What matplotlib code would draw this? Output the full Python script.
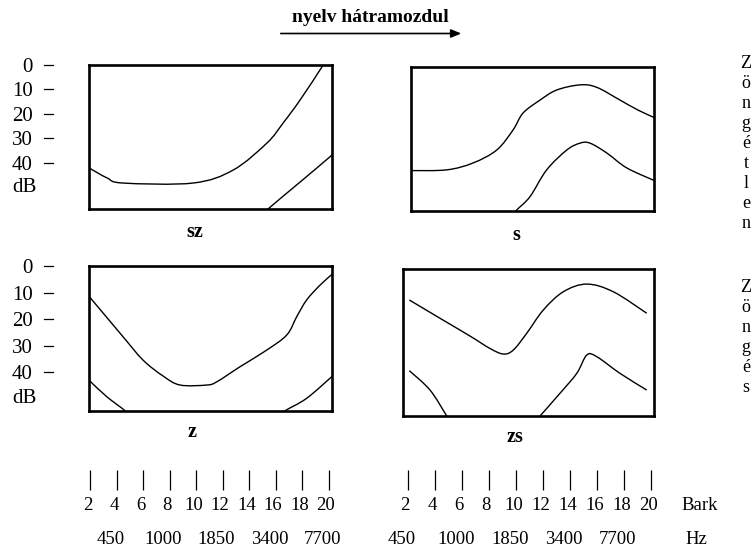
import numpy as np
import matplotlib.pyplot as plt
from matplotlib.path import Path
from matplotlib.patches import PathPatch, FancyArrowPatch

plt.rcParams['font.family'] = ['Liberation Serif', 'DejaVu Serif']

W, H = 753, 548

# spectral envelopes (Bark, dB below peak); two curves per sound
sz_hi_bark = [1.92, 3.28, 4.49, 9.77, 12.8, 15.36, 16.57, 17.85, 19.5, 19.9]
sz_hi_db = [42.0, 46.1, 48.2, 48.2, 42.9, 31.8, 23.7, 14.3, 0.8, -3.0]
sz_lo_bark = [15.2, 15.43, 17.85, 20.19, 20.4]
sz_lo_db = [60.5, 58.8, 47.8, 37.1, 35.8]

s_hi_bark = [2.2, 4.87, 6.81, 8.57, 9.78, 10.52, 11.78, 13.01, 14.74, 15.98, 17.7, 19.04, 20.3]
s_hi_db = [42.3, 42.0, 39.2, 33.9, 25.7, 18.8, 13.5, 9.4, 7.3, 8.3, 13.5, 17.6, 20.8]
s_lo_bark = [9.9, 10.05, 11.04, 12.27, 13.76, 14.74, 15.48, 16.72, 18.2, 20.3]
s_lo_db = [60.0, 58.4, 52.9, 42.0, 33.9, 31.1, 31.1, 35.1, 41.2, 46.5]

z_hi_bark = [1.9, 2.05, 4.49, 6.0, 7.51, 8.79, 10.81, 11.56, 13.32, 15.34, 16.85, 17.6, 18.35, 19.36, 20.3]
z_hi_db = [11.5, 12.2, 26.7, 35.5, 41.5, 44.9, 44.9, 43.7, 38.0, 31.7, 26.0, 19.1, 12.8, 7.2, 3.0]
z_lo1_bark = [1.9, 2.05, 3.26, 4.64, 4.8]
z_lo1_db = [43.0, 43.7, 49.3, 54.6, 56.0]
z_lo2_bark = [16.5, 16.72, 18.35, 20.3]
z_lo2_db = [56.0, 54.6, 49.9, 41.5]

zs_hi_bark = [2.1, 4.37, 6.59, 8.07, 9.06, 9.8, 10.79, 12.02, 13.5, 15.24, 17.21, 19.68]
zs_hi_db = [11.7, 18.6, 25.3, 30.0, 32.1, 30.6, 24.3, 15.5, 8.6, 5.7, 8.6, 16.7]
zs_lo1_bark = [2.1, 3.63, 4.87]
zs_lo1_db = [38.4, 45.7, 55.5]
zs_lo2_bark = [11.78, 13.26, 14.5, 15.24, 15.98, 17.7, 19.68]
zs_lo2_db = [55.5, 46.9, 39.4, 32.5, 33.1, 39.4, 45.7]

db_ticks = [0, 10, 20, 30, 40]
bark_ticks = [2, 4, 6, 8, 10, 12, 14, 16, 18, 20]
hz_labels = ["450", "1000", "1850", "3400", "7700"]
hz_left_bark = [4, 8, 12, 16, 20]
hz_right_bark = [2, 6, 10, 14, 18]

fig = plt.figure(figsize=(W / 100, H / 100), dpi=100)


def px_axes(x0, y0, x1, y1):
    return fig.add_axes([x0 / W, 1 - y1 / H, (x1 - x0) / W, (y1 - y0) / H])


def smooth_curve(ax, x, y):
    # Catmull-Rom through the points, drawn as cubic Bezier segments
    p = np.column_stack([x, y]).astype(float)
    verts, codes = [p[0]], [Path.MOVETO]
    for i in range(len(p) - 1):
        p0 = p[i - 1] if i > 0 else p[i]
        p3 = p[i + 2] if i + 2 < len(p) else p[i + 1]
        verts += [p[i] + (p[i + 1] - p0) / 6, p[i + 1] - (p3 - p[i]) / 6, p[i + 1]]
        codes += [Path.CURVE4] * 3
    ax.add_patch(PathPatch(Path(verts, codes), fill=False, ec="black", lw=1.0))


def panel(x0, y0, x1, y1, xlim, ybottom, curves, name, name_xy, left):
    ax = px_axes(x0, y0, x1, y1)
    for bx, db in curves:
        smooth_curve(ax, bx, db)
    ax.set_xlim(*xlim)
    ax.set_ylim(ybottom, 0)
    ax.set_xticks([])
    for sp in ax.spines.values():
        sp.set_linewidth(1.9)
    if left:
        ax.set_yticks(db_ticks)
        ax.set_yticklabels([str(v) for v in db_ticks], fontsize=15)
        ax.tick_params(axis="y", length=0, pad=(x0 - 33) * 0.72)
        tr = ax.get_yaxis_transform()
        for v in db_ticks:
            ax.plot([(44 - x0) / (x1 - x0), (53 - x0) / (x1 - x0)], [v, v],
                    transform=tr, color="black", lw=0.9, clip_on=False)
        ax.text((24 - x0) / (x1 - x0), 50, "dB", transform=tr, fontsize=15,
                ha="center", va="center")
    else:
        ax.set_yticks([])
    fig.text(name_xy[0] / W, 1 - name_xy[1] / H, name, fontsize=14.5,
             fontweight="bold", ha="center", va="center")
    return ax


panel(89, 65, 332, 209, (1.92, 20.26), 58.8,
      [(sz_hi_bark, sz_hi_db), (sz_lo_bark, sz_lo_db)], "sz", (195, 232), True)
panel(411, 67, 654, 211, (2.22, 20.22), 58.8,
      [(s_hi_bark, s_hi_db), (s_lo_bark, s_lo_db)], "s", (516, 235), False)
panel(89, 266, 332, 411, (1.92, 20.26), 54.7,
      [(z_hi_bark, z_hi_db), (z_lo1_bark, z_lo1_db), (z_lo2_bark, z_lo2_db)],
      "z", (192, 432), True)
panel(403, 269, 654, 416, (1.63, 20.22), 55.5,
      [(zs_hi_bark, zs_hi_db), (zs_lo1_bark, zs_lo1_db), (zs_lo2_bark, zs_lo2_db)],
      "zs", (515, 437), False)


def bark_scale(x0, x1, xlim, hz_bark):
    ax = px_axes(x0, 460, x1, 548)
    ax.set_xlim(*xlim)
    ax.set_ylim(548, 460)
    ax.axis("off")
    ax.vlines(bark_ticks, 470, 490, color="black", lw=0.9)
    for b in bark_ticks:
        ax.text(b - 0.2, 505, str(b), fontsize=13.5, ha="center", va="center")
    for b, lab in zip(hz_bark, hz_labels):
        ax.text(b - 0.45, 539, lab, fontsize=13.5, ha="center", va="center")


bark_scale(89, 332, (1.92, 20.26), hz_left_bark)
bark_scale(403, 654, (1.63, 20.22), hz_right_bark)

fig.text(700 / W, 1 - 505 / H, "Bark", fontsize=13.5, ha="center", va="center")
fig.text(696 / W, 1 - 539 / H, "Hz", fontsize=13.5, ha="center", va="center")

# title with arrow
fig.text(370 / W, 1 - 18 / H, "nyelv hátramozdul", fontsize=14,
         fontweight="bold", ha="center", va="center")
fig.patches.append(FancyArrowPatch(
    (278 / W, 1 - 33.5 / H), (464 / W, 1 - 33.5 / H), transform=fig.transFigure,
    arrowstyle="-|>,head_length=6,head_width=2.5", color="black", lw=1.2))

# stacked side labels
for i, ch in enumerate("Zöngétlen"):
    fig.text(746 / W, 1 - (63 + 20 * i) / H, ch, fontsize=13, ha="center", va="center")
for i, ch in enumerate("Zöngés"):
    fig.text(746 / W, 1 - (288 + 20 * i) / H, ch, fontsize=13, ha="center", va="center")

fig.savefig("out.png", dpi=100)
